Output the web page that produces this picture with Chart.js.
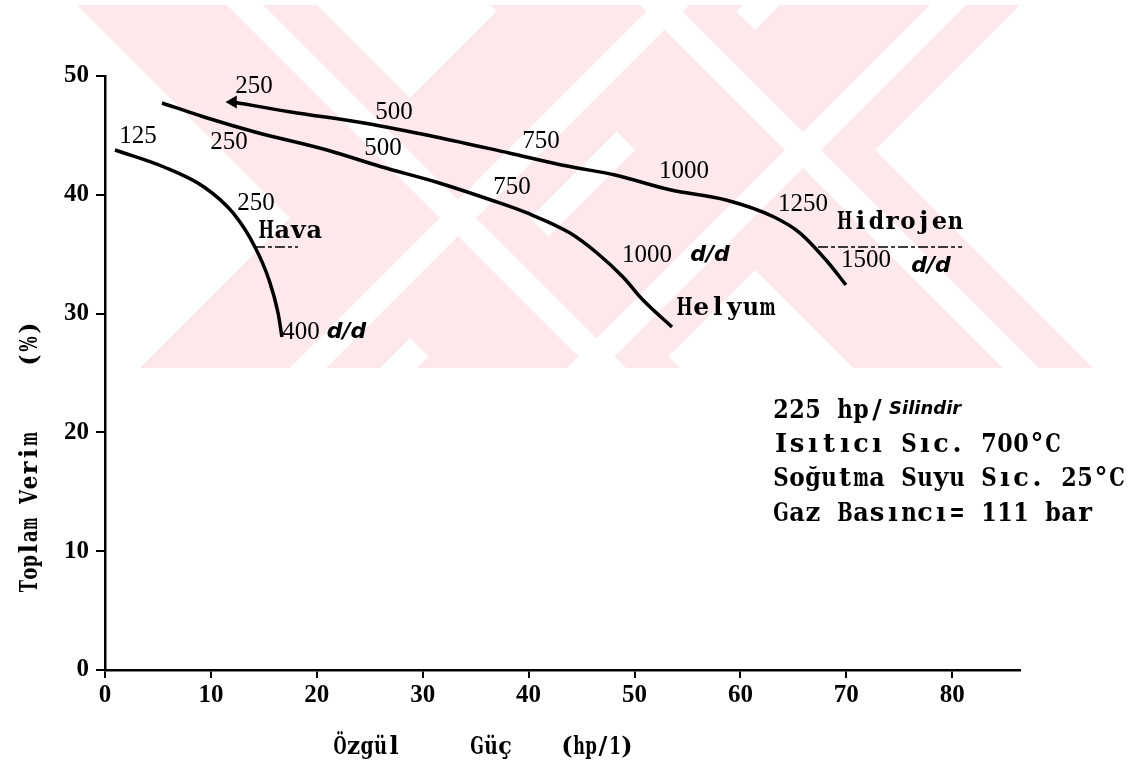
<!DOCTYPE html>
<html>
<head>
<meta charset="utf-8">
<script src="https://cdn.jsdelivr.net/npm/chart.js@4.4.0/dist/chart.umd.min.js"></script>
<style>
  body { margin: 0; background: #fff; }
  #wrap { width: 1138px; height: 771px; position: relative; }
</style>
</head>
<body>
<div id="wrap"><canvas id="verimChart"></canvas></div>
<script>
// Specific power (hp/l) vs total efficiency (%) for each working gas
var havaX = [0.94, 5.57, 9.35, 12.09, 14.16, 15.49, 16.34, 16.71];
var havaY = [43.77, 42.34, 40.66, 38.47, 35.61, 32.83, 30.05, 28.03];

var helyumX = [5.38, 9.35, 14.16, 20.96, 26.16, 31.26, 36.45, 39.85, 43.91, 46.46, 48.91, 50.80, 53.54];
var helyumY = [47.73, 46.55, 45.29, 43.77, 42.34, 41.08, 39.56, 38.47, 36.78, 35.10, 33.08, 31.14, 28.87];

var hidrojenX = [12.09, 17.56, 24.46, 31.26, 38.15, 43.63, 48.16, 53.45, 58.64, 63.17, 65.63, 68.08, 69.97];
var hidrojenY = [47.81, 46.97, 46.04, 44.87, 43.52, 42.42, 41.67, 40.40, 39.56, 38.13, 36.78, 34.51, 32.41];

var xTickValues = [0, 10, 20, 30, 40, 50, 60, 70, 80];
var yTickValues = [0, 10, 20, 30, 40, 50];

// engine speed labels (d/d) written along the curves, in data units
var speedText = ['125', '250', '400', '250', '500', '750', '1000', '250', '500', '750', '1000', '1250', '1500'];
var speedAtX = [3.12, 14.26, 18.5, 11.71, 26.25, 38.43, 51.18, 14.07, 27.29, 41.17, 54.67, 65.91, 71.86];
var speedAtY = [44.95, 39.31, 28.45, 44.44, 43.94, 40.66, 34.93, 49.16, 46.97, 44.53, 42.00, 39.23, 34.51];

var gasNames = ['Hava', 'Helyum', 'Hidrojen'];
var gasAtX = [17.5, 58.64, 75.07];
var gasAtY = [36.87, 30.47, 37.71];

var unitAtX = [22.8, 57.13, 78.0];
var unitAtY = [28.45, 34.93, 34.0];

var infoLines = ['225 hp/', 'Isıtıcı Sıc. 700°C', 'Soğutma Suyu Sıc. 25°C', 'Gaz Basıncı= 111 bar'];

function toPoints(xs, ys) {
    return xs.map(function (x, i) { return { x: x, y: ys[i] }; });
}

// typewriter style: serif bold glyphs on a fixed pitch, squeezed if too wide
function typewriter(ctx, text, x, y, pitch, centered) {
    var chars = Array.from(text);
    var start = centered ? x - chars.length * pitch / 2 : x;
    ctx.textAlign = 'center';
    chars.forEach(function (ch, i) {
        if (ch === ' ') return;
        var w = ctx.measureText(ch).width;
        var s = Math.min(1, (pitch * 0.97) / w);
        ctx.save();
        ctx.translate(start + (i + 0.5) * pitch, y);
        ctx.scale(s, 1);
        ctx.fillText(ch, 0, 0);
        ctx.restore();
    });
}

// faint pink watermark stripes behind the plot
var watermarkPlugin = {
    id: 'watermark',
    beforeDraw: function (chart) {
        var ctx = chart.ctx;
        var top = 5, bot = 368, h = bot - top;
        var bands = [
            [77, 1], [503, -1], [780, -1], [490, 1]
        ];
        ctx.save();
        ctx.beginPath();
        ctx.rect(60, top, 1040, h);
        ctx.clip();
        bands.forEach(function (b) {
            var x0 = b[0], dir = b[1];
            var w = 240;
            ctx.fillStyle = '#fde8eb';
            ctx.beginPath();
            ctx.moveTo(x0, top);
            ctx.lineTo(x0 + w, top);
            ctx.lineTo(x0 + w + dir * h, bot);
            ctx.lineTo(x0 + dir * h, bot);
            ctx.closePath();
            ctx.fill();
        });
        bands.forEach(function (b) {
            var x0 = b[0] + 150, dir = b[1];
            var w = 36;
            ctx.fillStyle = '#ffffff';
            ctx.beginPath();
            ctx.moveTo(x0, top);
            ctx.lineTo(x0 + w, top);
            ctx.lineTo(x0 + w + dir * h, bot);
            ctx.lineTo(x0 + dir * h, bot);
            ctx.closePath();
            ctx.fill();
        });
        ctx.restore();
    }
};

// labels, titles and the note block
var textPlugin = {
    id: 'texts',
    afterDatasetsDraw: function (chart) {
        var ctx = chart.ctx;
        var sx = chart.scales.x, sy = chart.scales.y;
        ctx.save();
        ctx.fillStyle = '#000';
        ctx.strokeStyle = '#000';
        ctx.textBaseline = 'middle';

        ctx.font = '25px "Liberation Serif"';
        ctx.textAlign = 'center';
        speedText.forEach(function (t, i) {
            ctx.fillText(t, sx.getPixelForValue(speedAtX[i]), sy.getPixelForValue(speedAtY[i]));
        });

        ctx.font = 'bold italic 22px "DejaVu Sans"';
        unitAtX.forEach(function (x, i) {
            ctx.fillText('d/d', sx.getPixelForValue(x), sy.getPixelForValue(unitAtY[i]));
        });

        ctx.font = 'bold 25px "DejaVu Serif"';
        var gasPitch = [16, 16.6, 15.8];
        gasNames.forEach(function (t, i) {
            typewriter(ctx, t, sx.getPixelForValue(gasAtX[i]), sy.getPixelForValue(gasAtY[i]), gasPitch[i], true);
        });

        // underlines under Hava and Hidrojen
        ctx.lineWidth = 1.5;
        ctx.setLineDash([10, 3, 4, 3]);
        ctx.beginPath();
        ctx.moveTo(sx.getPixelForValue(14.16), sy.getPixelForValue(35.61));
        ctx.lineTo(sx.getPixelForValue(18.22), sy.getPixelForValue(35.61));
        ctx.moveTo(sx.getPixelForValue(67.33), sy.getPixelForValue(35.61));
        ctx.lineTo(sx.getPixelForValue(80.93), sy.getPixelForValue(35.61));
        ctx.stroke();
        ctx.setLineDash([]);

        // note block
        ctx.font = 'bold 26px "DejaVu Serif"';
        var lineY = [411, 445, 479, 514];
        infoLines.forEach(function (t, i) {
            typewriter(ctx, t, 773, lineY[i], 16, false);
        });
        ctx.textAlign = 'left';
        ctx.font = 'bold italic 18px "DejaVu Sans"';
        ctx.fillText('Silindir', 889, lineY[0] - 2);

        // axis titles
        ctx.font = 'bold 24px "DejaVu Serif"';
        typewriter(ctx, 'Özgül', 367, 748, 13.5, true);
        typewriter(ctx, 'Güç', 491, 748, 14, true);
        typewriter(ctx, '(hp/1)', 597, 748, 12, true);

        ctx.translate(31, 454);
        ctx.rotate(-Math.PI / 2);
        ctx.font = 'bold 24px "DejaVu Serif"';
        typewriter(ctx, 'Toplam', -101, 0, 12.5, true);
        typewriter(ctx, 'Verim', -14, 0, 14.5, true);
        typewriter(ctx, '(%)', 110, 0, 16, true);
        ctx.restore();
    }
};

var lineStyle = {
    showLine: true,
    borderColor: '#000',
    backgroundColor: '#000',
    borderWidth: 3.5,
    pointRadius: 0,
    cubicInterpolationMode: 'monotone'
};

var ctx = document.getElementById('verimChart').getContext('2d');
new Chart(ctx, {
    type: 'scatter',
    data: {
        datasets: [
            Object.assign({ label: 'Hava', data: toPoints(havaX, havaY) }, lineStyle),
            Object.assign({ label: 'Helyum', data: toPoints(helyumX, helyumY) }, lineStyle),
            Object.assign({
                label: 'Hidrojen',
                data: toPoints(hidrojenX, hidrojenY),
                pointStyle: 'triangle',
                rotation: -90
            }, lineStyle, { pointRadius: function (c) { return c.dataIndex === 0 ? 4 : 0; } })
        ]
    },
    options: {
        responsive: true,
        maintainAspectRatio: false,
        animation: false,
        layout: { padding: { left: 0, top: 76, right: 118, bottom: 0 } },
        scales: {
            x: {
                type: 'linear',
                min: 0,
                max: 86.4,
                afterFit: function (s) { s.height = 101; },
                afterBuildTicks: function (s) { s.ticks = xTickValues.map(function (v) { return { value: v }; }); },
                border: { color: '#000', width: 2.5 },
                grid: { drawOnChartArea: false, drawTicks: true, tickLength: 8, color: '#000', lineWidth: 2 },
                ticks: {
                    color: '#000',
                    padding: 3,
                    maxRotation: 0,
                    font: { family: 'Liberation Serif', size: 25, weight: 'bold' }
                }
            },
            y: {
                min: 0,
                max: 50,
                afterFit: function (s) { s.width = 105; },
                afterBuildTicks: function (s) { s.ticks = yTickValues.map(function (v) { return { value: v }; }); },
                border: { color: '#000', width: 2.5 },
                grid: { drawOnChartArea: false, drawTicks: true, tickLength: 9, color: '#000', lineWidth: 2 },
                ticks: {
                    color: '#000',
                    padding: 7,
                    font: { family: 'Liberation Serif', size: 25, weight: 'bold' }
                }
            }
        },
        plugins: {
            legend: { display: false },
            tooltip: { enabled: false }
        }
    },
    plugins: [watermarkPlugin, textPlugin]
});
</script>
</body>
</html>
